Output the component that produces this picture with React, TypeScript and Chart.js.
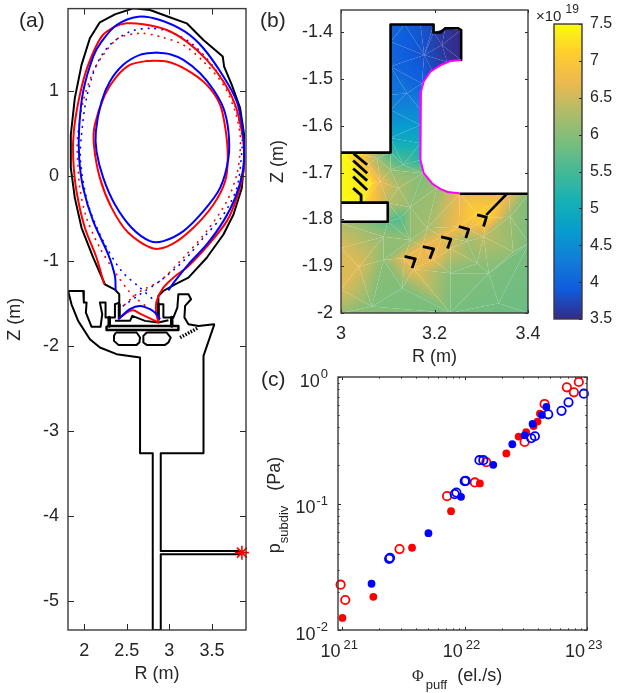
import React, { useEffect, useRef } from "react";
import { Chart, registerables } from "chart.js";

Chart.register(...registerables);

type Pt = number[];

// ---------- Panel (a): equilibrium and vessel geometry, [R, Z] in metres ----------
const aTicksR = [2, 2.5, 3, 3.5];
const aTicksZ = [-5, -4, -3, -2, -1, 0, 1];

const vesselOutline: Pt[] = [
  [1.812, -1.351], [1.989, -1.351], [1.996, -1.488], [2.028, -1.488], [2.02, -1.605], [2.087, -1.773], [2.192, -1.773],
  [2.212, -1.625], [2.185, -1.488], [2.251, -1.488], [2.251, -1.664], [2.361, -1.664], [2.361, -1.508], [2.412, -1.488],
  [2.412, -1.39], [2.361, -1.336], [2.243, -1.273], [2.106, -0.961], [1.969, -0.609], [1.89, -0.258], [1.843, 0.094],
  [1.843, 0.484], [1.89, 0.914], [1.969, 1.305], [2.067, 1.617], [2.184, 1.805], [2.361, 1.898], [2.576, 1.969],
  [2.773, 1.949], [2.988, 1.871], [3.204, 1.793], [3.4, 1.598], [3.627, 1.402], [3.643, 1.285], [3.733, 1.07],
  [3.831, 0.797], [3.878, 0.484], [3.878, 0.172], [3.851, -0.141], [3.753, -0.453], [3.635, -0.688], [3.439, -0.961],
  [3.224, -1.195], [3.067, -1.273], [2.929, -1.352], [2.871, -1.41], [2.871, -1.508], [2.93, -1.508], [2.93, -1.664],
  [3.047, -1.664], [3.094, -1.547], [3.106, -1.39], [3.224, -1.39], [3.255, -1.449], [3.185, -1.527], [3.177, -1.664],
  [3.224, -1.742], [3.341, -1.762], [3.526, -1.742], [3.526, -1.75], [3.401, -2.114], [3.401, -3.258], [2.899, -3.258],
  [2.899, -4.406], [3.852, -4.406],
];
const vesselLower: Pt[] = [
  [3.852, -4.445], [2.899, -4.445], [2.899, -5.336], [2.805, -5.336], [2.805, -3.258], [2.656, -3.258], [2.656, -2.133],
  [2.381, -2.094], [2.185, -2.016], [2.067, -1.918], [1.929, -1.703], [1.851, -1.508], [1.812, -1.352],
];
const divertorPlate: Pt[] = [[2.263, -1.762], [3.106, -1.762], [3.106, -1.809], [2.263, -1.809], [2.263, -1.762]];
const divertorDome: Pt[] = [[2.361, -1.703], [2.538, -1.703], [2.565, -1.644], [2.714, -1.703], [2.871, -1.723], [2.989, -1.695]];
const supportLeft: Pt[] = [[2.294, -1.664], [2.294, -1.762]];
const supportRight: Pt[] = [[3.028, -1.664], [3.028, -1.762]];
const baffleLeft: Pt[] = [[2.412, -1.508], [2.412, -1.664]];
const baffleRight: Pt[] = [[2.871, -1.508], [2.871, -1.683]];
const cryoLeft: Pt[] = [[2.373, -1.84], [2.616, -1.84], [2.656, -1.899], [2.648, -1.957], [2.616, -1.985], [2.401, -1.985], [2.35, -1.938], [2.35, -1.879], [2.373, -1.84]];
const cryoRight: Pt[] = [[2.734, -1.84], [2.969, -1.84], [3.016, -1.899], [2.989, -1.957], [2.95, -1.985], [2.734, -1.985], [2.695, -1.957], [2.695, -1.879], [2.734, -1.84]];
const pumpSlats: Pt[] = [[3.126, -1.899], [3.342, -1.782]];
const gaugePoint: Pt[] = [[3.852, -4.426]];

const redOuter: Pt[] = [
  [2.235, -1.273], [2.145, -0.961], [2.008, -0.609], [1.91, -0.18], [1.871, 0.211], [1.878, 0.523], [1.949, 0.953],
  [2.047, 1.305], [2.204, 1.637], [2.361, 1.754], [2.498, 1.793], [2.694, 1.781], [2.969, 1.715], [3.204, 1.578],
  [3.439, 1.363], [3.635, 1.109], [3.773, 0.836], [3.851, 0.523], [3.878, 0.289], [3.871, 0.055], [3.792, -0.258],
  [3.675, -0.531], [3.478, -0.785], [3.224, -1.059], [3.047, -1.195], [2.929, -1.313], [2.851, -1.469], [2.843, -1.605], [2.878, -1.723],
];
const redFloor: Pt[] = [[2.4, -1.684], [2.498, -1.605], [2.576, -1.578], [2.655, -1.617], [2.753, -1.664], [2.878, -1.723]];
const blueOuter: Pt[] = [
  [2.369, -1.344], [2.361, -1.176], [2.282, -0.922], [2.106, -0.531], [1.988, -0.141], [1.941, 0.211], [1.941, 0.563],
  [1.988, 0.992], [2.106, 1.402], [2.204, 1.578], [2.38, 1.773], [2.635, 1.871], [2.89, 1.832], [3.184, 1.695], [3.4, 1.5],
  [3.635, 1.168], [3.792, 0.875], [3.859, 0.563], [3.878, 0.328], [3.863, 0.055], [3.773, -0.258], [3.635, -0.531],
  [3.439, -0.805], [3.224, -1.039], [3.067, -1.234], [2.988, -1.344],
];
const blueFloor: Pt[] = [[2.4, -1.684], [2.537, -1.566], [2.655, -1.527], [2.773, -1.566], [2.851, -1.625], [2.89, -1.684]];
const blueCore: Pt[] = [
  [2.851, 1.449], [2.655, 1.422], [2.459, 1.305], [2.302, 1.109], [2.204, 0.875], [2.137, 0.523], [2.145, 0.289],
  [2.224, -0.023], [2.361, -0.336], [2.557, -0.609], [2.773, -0.766], [2.929, -0.766], [3.165, -0.648], [3.4, -0.414],
  [3.596, -0.141], [3.694, 0.211], [3.694, 0.523], [3.635, 0.797], [3.518, 1.012], [3.361, 1.207], [3.165, 1.363], [3.008, 1.43], [2.851, 1.449],
];
const redCore: Pt[] = [
  [2.733, 1.352], [2.537, 1.305], [2.38, 1.168], [2.243, 0.953], [2.125, 0.602], [2.114, 0.367], [2.184, -0.023],
  [2.322, -0.375], [2.518, -0.668], [2.812, -0.852], [3.027, -0.805], [3.282, -0.609], [3.518, -0.336], [3.655, -0.063],
  [3.686, 0.211], [3.663, 0.523], [3.596, 0.836], [3.439, 1.07], [3.204, 1.246], [2.969, 1.344], [2.733, 1.352],
];
const blueDotted: Pt[] = [
  [2.851, -1.488], [2.655, -1.313], [2.439, -1.117], [2.224, -0.766], [2.047, -0.336], [1.957, 0.172], [1.969, 0.484],
  [2.027, 0.914], [2.145, 1.305], [2.302, 1.539], [2.537, 1.695], [2.773, 1.734], [3.008, 1.695], [3.282, 1.539],
  [3.557, 1.227], [3.753, 0.875], [3.851, 0.484], [3.851, 0.289], [3.792, -0.141], [3.635, -0.453], [3.4, -0.727],
  [3.165, -1], [2.89, -1.234], [2.655, -1.391], [2.459, -1.527],
];
const redDotted: Pt[] = [
  [2.773, -1.566], [2.557, -1.391], [2.38, -1.156], [2.184, -0.844], [2.027, -0.492], [1.949, -0.141], [1.918, 0.328],
  [1.929, 0.523], [1.988, 0.875], [2.106, 1.227], [2.224, 1.422], [2.4, 1.617], [2.655, 1.676], [2.89, 1.637], [3.165, 1.539],
  [3.4, 1.344], [3.635, 1.07], [3.773, 0.758], [3.831, 0.484], [3.831, 0.289], [3.792, 0.016], [3.675, -0.297], [3.439, -0.648],
  [3.165, -0.961], [2.89, -1.234], [2.655, -1.359], [2.459, -1.527],
];

// ---------- Panel (b): neutral density on a triangular mesh, [R, Z, n / 1e19] ----------
const bTicksR = [3, 3.2, 3.4];
const bTicksZ = [-2, -1.9, -1.8, -1.7, -1.6, -1.5, -1.4];
const meshNodes: Pt[] = [
  [3.106, -1.383, 3.95], [3.136, -1.383, 3.95], [3.17, -1.383, 3.85], [3.198, -1.383, 3.75], [3.198, -1.4, 3.7],
  [3.223, -1.391, 3.6], [3.257, -1.395, 3.5], [3.257, -1.459, 3.5], [3.227, -1.463, 3.6], [3.195, -1.482, 3.75],
  [3.173, -1.509, 3.95], [3.178, -1.448, 3.8], [3.216, -1.427, 3.6], [3.106, -1.42, 4.0], [3.106, -1.473, 4.05],
  [3.141, -1.53, 4.2], [3.106, -1.534, 4.2], [3.17, -1.566, 4.45], [3.106, -1.566, 4.4], [3.106, -1.598, 4.65],
  [3.17, -1.598, 4.7], [3.106, -1.626, 4.9], [3.17, -1.637, 5.0], [3.106, -1.657, 5.5], [3.133, -1.683, 5.6],
  [3.17, -1.673, 5.3], [3.0, -1.657, 7.5], [3.027, -1.657, 7.5], [3.0, -1.763, 7.5], [3.045, -1.763, 7.4],
  [3.059, -1.681, 6.7], [3.064, -1.723, 7.3], [3.084, -1.719, 6.7], [3.077, -1.669, 6.2], [3.123, -1.733, 6.3],
  [3.106, -1.694, 6.1], [3.1, -1.764, 6.35], [3.1, -1.805, 5.7], [3.127, -1.797, 5.6], [3.148, -1.774, 6.1],
  [3.175, -1.701, 5.95], [3.205, -1.732, 6.15], [3.254, -1.745, 6.7], [3.359, -1.745, 6.7], [3.402, -1.745, 5.95],
  [3.184, -1.819, 6.2], [3.148, -1.844, 6.1], [3.091, -1.837, 6.1], [3.0, -1.808, 6.3], [3.291, -1.894, 6.05],
  [3.0, -1.861, 6.6], [3.038, -1.901, 6.6], [3.0, -1.949, 6.6], [3.0, -2, 6.15], [3.066, -1.986, 5.95],
  [3.091, -1.886, 6.05], [3.131, -1.947, 5.95], [3.234, -2, 5.9], [3.234, -1.915, 6.0], [3.316, -1.915, 5.95],
  [3.337, -1.979, 5.85], [3.402, -2, 5.8], [3.402, -1.851, 5.9], [3.368, -1.869, 6.1], [3.362, -1.794, 6.15],
  [3.305, -1.837, 6.4], [3.291, -1.787, 7.1], [3.311, -1.797, 7.2], [3.252, -1.815, 6.8], [3.273, -1.822, 6.6],
  [3.27, -1.847, 6.2], [3.216, -1.837, 6.7], [3.234, -1.862, 6.5], [3.175, -1.857, 6.7], [3.198, -1.886, 6.7],
  [3.136, -1.883, 6.7], [3.155, -1.906, 6.7],
];
const meshTriangles: Pt[] = [
  [0, 1, 13], [1, 11, 13], [1, 2, 11], [2, 3, 11], [3, 4, 11], [4, 12, 11], [4, 5, 12], [5, 6, 12], [6, 7, 12], [7, 8, 12],
  [8, 11, 12], [8, 9, 11], [9, 10, 11], [10, 14, 11], [13, 11, 14], [14, 10, 15], [14, 15, 16], [10, 17, 15], [15, 17, 18],
  [15, 18, 16], [18, 17, 20], [18, 20, 19], [19, 20, 21], [20, 22, 21], [21, 22, 24], [21, 24, 23], [22, 25, 24],
  [26, 27, 30], [26, 30, 31], [26, 31, 28], [28, 31, 29], [31, 32, 29], [29, 32, 36], [27, 33, 30], [27, 23, 33], [30, 32, 31],
  [30, 33, 32], [33, 35, 32], [33, 23, 35], [23, 24, 35], [35, 24, 40], [24, 25, 40], [35, 40, 34], [35, 34, 32], [32, 34, 36],
  [34, 40, 39], [34, 39, 36], [40, 41, 39], [36, 39, 38], [36, 38, 37], [41, 45, 39], [39, 45, 46], [39, 46, 38], [38, 46, 37],
  [37, 46, 47], [41, 42, 45], [42, 68, 45], [42, 66, 68], [42, 43, 66], [43, 67, 66], [43, 64, 67], [43, 44, 64], [44, 62, 64],
  [64, 63, 62], [64, 67, 65], [64, 65, 63], [66, 69, 68], [66, 67, 69], [67, 65, 69], [69, 65, 70], [68, 69, 70], [68, 70, 71],
  [68, 71, 45], [71, 70, 72], [45, 71, 73], [45, 73, 46], [71, 72, 74], [71, 74, 73], [73, 74, 76], [73, 76, 75], [46, 73, 75],
  [46, 75, 55], [46, 55, 47], [47, 55, 51], [47, 51, 50], [47, 50, 48], [47, 48, 37], [50, 51, 52], [52, 51, 54], [52, 54, 53],
  [51, 55, 54], [55, 56, 54], [55, 75, 56], [75, 76, 56], [76, 74, 58], [76, 58, 57], [76, 57, 56], [56, 57, 54], [54, 57, 53],
  [74, 72, 58], [72, 70, 49], [72, 49, 58], [70, 65, 49], [65, 59, 49], [65, 63, 59], [63, 62, 59], [62, 61, 60], [62, 60, 59],
  [59, 60, 57], [59, 57, 58], [49, 59, 58], [60, 61, 57],
];
const bWall: Pt[] = [[3, -1.657], [3.106, -1.657], [3.106, -1.383], [3.198, -1.383], [3.198, -1.4], [3.213, -1.4], [3.223, -1.391], [3.25, -1.391], [3.257, -1.395], [3.257, -1.459]];
const bFloor: Pt[] = [[3.254, -1.745], [3.402, -1.745]];
const bStrut: Pt[] = [[3.355, -1.745], [3.311, -1.79]];
const bHole: Pt[] = [[3, -1.764], [3.1, -1.764], [3.1, -1.805], [3, -1.805]];
const bDome: Pt[] = [[3.257, -1.459], [3.234, -1.461], [3.213, -1.47], [3.191, -1.484], [3.177, -1.505], [3.171, -1.527], [3.17, -1.566], [3.17, -1.673], [3.177, -1.701], [3.195, -1.723], [3.213, -1.735], [3.23, -1.742], [3.254, -1.744]];
const bLouvers: Pt[][] = [
  [[3.027, -1.659], [3.056, -1.683]], [[3.026, -1.674], [3.056, -1.701]], [[3.026, -1.691], [3.056, -1.717]], [[3.026, -1.708], [3.056, -1.737]],
  [[3.026, -1.733], [3.043, -1.748], [3.043, -1.764]],
];
const bTargets: Pt[][] = [
  [[3.291, -1.79], [3.311, -1.795], [3.305, -1.815]], [[3.252, -1.815], [3.273, -1.821], [3.267, -1.84]],
  [[3.214, -1.837], [3.235, -1.842], [3.228, -1.862]], [[3.175, -1.858], [3.198, -1.863], [3.19, -1.884]],
  [[3.136, -1.879], [3.159, -1.884], [3.152, -1.904]],
];

// ---------- Colour bar ----------
const colorTicks = [3.5, 4, 4.5, 5, 5.5, 6, 6.5, 7, 7.5];
const parulaStops: Pt[] = [
  [53, 42, 135], [15, 92, 221], [18, 125, 216], [7, 156, 207], [21, 177, 180], [70, 185, 150], [120, 190, 125], [175, 188, 105], [235, 185, 80], [255, 205, 45], [249, 251, 14],
];

// ---------- Panel (c): subdivertor pressure (Pa) versus puff rate (el./s) ----------
const cMajorX = [1e21, 1e22, 1e23];
const cMajorY = [0.01, 0.1, 1];
const decadeMultiples = [2, 3, 4, 5, 6, 7, 8, 9];
const cLabelsX = ["21", "22", "23"];
const cLabelsY = ["-2", "-1", "0"];
const redOpen: Pt[] = [
  [9.66e20, 0.0228], [1.055e21, 0.01726], [2.93e21, 0.0436], [7.17e21, 0.1143], [1.21e22, 0.1467], [1.5e22, 0.212],
  [3.09e22, 0.307], [4.5e22, 0.612], [6.84e22, 0.829], [7.81e22, 0.757], [8.57e22, 0.913],
];
const blueOpen: Pt[] = [
  [2.41e21, 0.0365], [2.45e21, 0.0372], [8.28e21, 0.1185], [8.55e21, 0.122], [1.0e22, 0.15], [1.02e22, 0.151], [1.32e22, 0.22],
  [1.42e22, 0.22], [3.5e22, 0.328], [3.75e22, 0.34], [4.82e22, 0.507], [6.19e22, 0.54], [7.06e22, 0.631], [9.42e22, 0.738],
];
const redFilled: Pt[] = [
  [1.0e21, 0.01245], [1.79e21, 0.0183], [3.71e21, 0.0447], [7.73e21, 0.087], [1.33e22, 0.144], [2.19e22, 0.249], [2.76e22, 0.338],
  [3.18e22, 0.366], [3.66e22, 0.41], [3.94e22, 0.444], [4.12e22, 0.514],
];
const blueFilled: Pt[] = [
  [1.73e21, 0.0232], [5.05e21, 0.0583], [9.33e21, 0.113], [1.71e22, 0.202], [2.45e22, 0.294], [3.09e22, 0.346], [3.59e22, 0.426],
  [4.28e22, 0.501], [4.65e22, 0.579],
];

// ---------- Helpers ----------
const INK = "#262626";
const FONT = '"Liberation Sans", Arial, sans-serif';
const RED = "#ff0000";
const BLUE = "#0000ff";
const CLEAR = "rgba(0,0,0,0)";

const xy = (pts: Pt[]) => pts.map(([x, y]) => ({ x, y }));
const line = (pts: Pt[], color: string, width: number, extra: any = {}) => ({
  data: xy(pts), showLine: true, borderColor: color, borderWidth: width, pointRadius: 0, fill: false, tension: 0,
  borderJoinStyle: "round", ...extra,
});
const dotted = { borderDash: [0.5, 6.4], borderCapStyle: "round" };
const smooth = { tension: 0.3 };

function parula(n: number): string {
  const t = Math.min(1, Math.max(0, (n - 3.5) / 4)) * (parulaStops.length - 1);
  const i = Math.min(parulaStops.length - 2, Math.floor(t));
  const f = t - i;
  const c = [0, 1, 2].map((k) => Math.round(parulaStops[i][k] * (1 - f) + parulaStops[i + 1][k] * f));
  return `rgb(${c[0]},${c[1]},${c[2]})`;
}

// linear colour field over a triangle, expressed as a canvas gradient through the chart's scales
function triangleFill(chart: any, tri: Pt) {
  const { x: sx, y: sy } = chart.scales;
  if (!sx || !sy || !chart.chartArea) return CLEAR;
  const p = tri.map((i) => ({ x: sx.getPixelForValue(meshNodes[i][0]), y: sy.getPixelForValue(meshNodes[i][1]), v: meshNodes[i][2] }));
  if (p.some((q) => !isFinite(q.x) || !isFinite(q.y))) return CLEAR;
  const dx1 = p[1].x - p[0].x, dy1 = p[1].y - p[0].y, dv1 = p[1].v - p[0].v;
  const dx2 = p[2].x - p[0].x, dy2 = p[2].y - p[0].y, dv2 = p[2].v - p[0].v;
  const det = dx1 * dy2 - dx2 * dy1;
  const a = (dv1 * dy2 - dv2 * dy1) / det;
  const b = (dx1 * dv2 - dx2 * dv1) / det;
  const g2 = a * a + b * b;
  const vals = p.map((q) => q.v);
  const lo = Math.min(...vals), hi = Math.max(...vals);
  if (!isFinite(g2) || g2 < 1e-12 || hi - lo < 1e-6) return parula(lo);
  const at = (v: number) => ({ x: p[0].x + (a * (v - p[0].v)) / g2, y: p[0].y + (b * (v - p[0].v)) / g2 });
  const s = at(lo), e = at(hi);
  const grad = chart.ctx.createLinearGradient(s.x, s.y, e.x, e.y);
  for (let k = 0; k <= 8; k++) grad.addColorStop(k / 8, parula(lo + ((hi - lo) * k) / 8));
  return grad;
}

// MATLAB-style box with inward tick marks on the requested sides
const frame = (major: number, minor: number, sides = "lrtb") => ({
  id: "frame",
  afterDatasetsDraw(chart: any) {
    const { ctx, chartArea: a, scales } = chart;
    ctx.save();
    ctx.strokeStyle = INK;
    ctx.lineWidth = 1;
    ctx.beginPath();
    const sx = scales.x, sy = scales.y;
    if (sx && sx.options.display !== false) {
      for (const t of sx.ticks) {
        const p = Math.round(sx.getPixelForValue(t.value)) + 0.5;
        const len = t.minor ? minor : major;
        if (sides.includes("b")) { ctx.moveTo(p, a.bottom); ctx.lineTo(p, a.bottom - len); }
        if (sides.includes("t")) { ctx.moveTo(p, a.top); ctx.lineTo(p, a.top + len); }
      }
    }
    for (const t of sy.ticks) {
      const p = Math.round(sy.getPixelForValue(t.value)) + 0.5;
      const len = t.minor ? minor : major;
      if (sides.includes("l")) { ctx.moveTo(a.left, p); ctx.lineTo(a.left + len, p); }
      if (sides.includes("r")) { ctx.moveTo(a.right, p); ctx.lineTo(a.right - len, p); }
    }
    ctx.stroke();
    ctx.strokeStyle = "#3a3a3a";
    ctx.lineWidth = 1.4;
    ctx.strokeRect(a.left, a.top, a.right - a.left, a.bottom - a.top);
    ctx.restore();
  },
});

// powers-of-ten tick labels with a raised exponent
const powerLabels = {
  id: "powerLabels",
  afterDraw(chart: any) {
    const { ctx, chartArea: a, scales } = chart;
    ctx.save();
    ctx.fillStyle = INK;
    ctx.textBaseline = "alphabetic";
    const put = (exp: string, left: number | null, right: number | null, base: number) => {
      ctx.font = `18px ${FONT}`;
      const bw = ctx.measureText("10").width;
      ctx.font = `13px ${FONT}`;
      const ew = ctx.measureText(exp).width;
      const gap = left !== null ? 3 : 1;
      const x = left !== null ? left : (right as number) - ew - gap - bw;
      ctx.font = `18px ${FONT}`;
      ctx.fillText("10", x, base);
      ctx.font = `13px ${FONT}`;
      ctx.fillText(exp, x + bw + gap, base - 8.5);
    };
    cMajorX.forEach((v, i) => put(cLabelsX[i], scales.x.getPixelForValue(v) - 22, null, a.bottom + 27));
    cMajorY.forEach((v, i) => put(cLabelsY[i], null, a.left - 10, scales.y.getPixelForValue(v) + 9.5));
    ctx.restore();
  },
};

const fitAxis = (size: number, horizontal: boolean) => (s: any) => {
  if (horizontal) s.height = size; else s.width = size;
  s.paddingLeft = s.paddingRight = s.paddingTop = s.paddingBottom = 0;
};

const tickFont = { family: FONT, size: 18 };
const barFont = { family: FONT, size: 16 };
const titleFont = { family: FONT, size: 18 };

const linearAxis = (min: number, max: number, ticks: number[], horizontal: boolean, size: number, title: string, tickPad: number, titlePad: number) => ({
  type: "linear",
  min, max,
  grid: { display: false, drawTicks: false },
  border: { display: false },
  afterBuildTicks: (s: any) => { s.ticks = ticks.map((value) => ({ value })); },
  afterFit: fitAxis(size, horizontal),
  ticks: { font: tickFont, color: INK, padding: tickPad, autoSkip: false, maxRotation: 0, callback: (v: number) => String(v) },
  title: { display: true, text: title, font: titleFont, color: INK, padding: horizontal ? { top: 0, bottom: titlePad } : { top: titlePad, bottom: titlePad } },
});

const logAxis = (min: number, max: number, majors: number[], horizontal: boolean, size: number) => ({
  type: "logarithmic",
  min, max,
  grid: { display: false, drawTicks: false },
  border: { display: false },
  afterBuildTicks: (s: any) => {
    const out: any[] = [];
    majors.forEach((m) => {
      out.push({ value: m, major: true });
      decadeMultiples.forEach((k) => {
        const v = m * k;
        if (v <= max) out.push({ value: v, minor: true });
      });
    });
    s.ticks = out.sort((p, q) => p.value - q.value);
  },
  afterFit: fitAxis(size, horizontal),
  ticks: { display: false, autoSkip: false },
});

const base = (padding: any) => ({
  animation: false,
  responsive: false,
  events: [],
  layout: { padding },
  plugins: { legend: { display: false }, tooltip: { enabled: false }, title: { display: false } },
});

const pos = (l: number, t: number, w: number, h: number): React.CSSProperties => ({ position: "absolute", left: l, top: t, width: w, height: h, display: "block" });
const label = (l: number, t: number, size = 18): React.CSSProperties => ({ position: "absolute", left: l, top: t, font: `${size}px ${FONT}`, color: INK, whiteSpace: "pre", lineHeight: "22px" });
const subStyle: React.CSSProperties = { fontSize: 13, verticalAlign: "-8px", lineHeight: 0 };
const supStyle: React.CSSProperties = { fontSize: 12, verticalAlign: "7.5px", lineHeight: 0, marginLeft: 4 };

export default function App() {
  const aRef = useRef<HTMLCanvasElement>(null);
  const bRef = useRef<HTMLCanvasElement>(null);
  const barRef = useRef<HTMLCanvasElement>(null);
  const cRef = useRef<HTMLCanvasElement>(null);

  useEffect(() => {
    const black = (p: Pt[], w = 2, extra: any = {}) => line(p, "#000000", w, extra);

    const chartA = new Chart(aRef.current as any, {
      type: "scatter",
      data: {
        datasets: [
          { data: xy(gaugePoint), pointStyle: "star", pointRadius: 7, pointBorderColor: RED, pointBorderWidth: 1.6, showLine: false, clip: false },
          line(blueFloor, BLUE, 2, smooth),
          line(blueOuter, BLUE, 2, smooth),
          line(blueCore, BLUE, 2, smooth),
          line(redFloor, RED, 2, smooth),
          line(redOuter, RED, 2, smooth),
          line(redCore, RED, 2, smooth),
          line(blueDotted, BLUE, 1.7, { ...dotted, ...smooth }),
          line(redDotted, RED, 1.7, { ...dotted, ...smooth }),
          black(vesselOutline),
          black(vesselLower),
          black(divertorPlate, 2.5),
          black(divertorDome),
          black(supportLeft, 3.5),
          black(supportRight, 3.5),
          black(baffleLeft, 3),
          black(baffleRight, 3),
          black(cryoLeft),
          black(cryoRight),
          black(pumpSlats, 3.5, { borderDash: [1.5, 1.5] }),
        ],
      },
      options: {
        ...base({ top: 7, right: 10 }),
        scales: {
          x: linearAxis(1.81, 3.9, aTicksR, true, 63, "R (m)", 10, 8),
          y: linearAxis(-5.335, 1.966, aTicksZ, false, 68, "Z (m)", 9, 4),
        },
      },
      plugins: [frame(6, 3)],
    } as any);

    const chartB = new Chart(bRef.current as any, {
      type: "scatter",
      data: {
        datasets: [
          line(bDome, "#ff00ff", 2),
          black(bWall, 2.6),
          black(bFloor, 2.6),
          black(bStrut, 2.6),
          black(bHole, 2.6),
          ...bLouvers.map((p) => black(p, 2.8)),
          ...bTargets.map((p) => black(p, 2.8)),
          ...meshTriangles.map((tri) => ({
            data: xy([...tri, tri[0]].map((i) => [meshNodes[i][0], meshNodes[i][1]])),
            showLine: true,
            borderWidth: 0,
            pointRadius: 0,
            fill: "shape",
            backgroundColor: (c: any) => triangleFill(c.chart, tri),
          })),
        ],
      },
      options: {
        ...base({ top: 10, right: 12 }),
        scales: {
          x: linearAxis(3, 3.4, bTicksR, true, 57, "R (m)", 10, 2),
          y: linearAxis(-2, -1.352, bTicksZ, false, 79, "Z (m)", 8, 5),
        },
      },
      plugins: [frame(3, 2)],
    } as any);

    const chartBar = new Chart(barRef.current as any, {
      type: "scatter",
      data: {
        datasets: [
          {
            data: [{ x: 0, y: 3.5 }, { x: 1, y: 3.5 }, { x: 1, y: 7.5 }, { x: 0, y: 7.5 }, { x: 0, y: 3.5 }],
            showLine: true, borderWidth: 0, pointRadius: 0, fill: "shape",
            backgroundColor: (c: any) => {
              const { y } = c.chart.scales;
              if (!y || !c.chart.chartArea) return CLEAR;
              const y0 = y.getPixelForValue(3.5), y1 = y.getPixelForValue(7.5);
              if (!isFinite(y0) || !isFinite(y1)) return CLEAR;
              const g = c.chart.ctx.createLinearGradient(0, y0, 0, y1);
              for (let k = 0; k <= 40; k++) g.addColorStop(k / 40, parula(3.5 + (4 * k) / 40));
              return g;
            },
          },
        ],
      },
      options: {
        ...base({ top: 24, left: 12, bottom: 21 }),
        scales: {
          x: { type: "linear", min: 0, max: 1, display: false },
          y: {
            type: "linear", position: "right", min: 3.5, max: 7.5,
            grid: { display: false, drawTicks: false }, border: { display: false },
            afterBuildTicks: (s: any) => { s.ticks = colorTicks.map((value) => ({ value })); },
            afterFit: fitAxis(43, false),
            ticks: { font: barFont, color: INK, padding: 8, autoSkip: false, callback: (v: number) => String(v) },
          },
        },
      },
      plugins: [frame(3, 2, "r")],
    } as any);

    const marker = (p: Pt[], color: string, filled: boolean) => ({
      data: xy(p), showLine: false, pointRadius: filled ? 3.9 : 4.2, pointStyle: "circle",
      pointBackgroundColor: filled ? color : CLEAR, pointBorderColor: color, pointBorderWidth: filled ? 0 : 1.8,
      clip: false,
    });
    const chartC = new Chart(cRef.current as any, {
      type: "scatter",
      data: {
        datasets: [
          marker(blueFilled, BLUE, true),
          marker(blueOpen, BLUE, false),
          marker(redFilled, RED, true),
          marker(redOpen, RED, false),
        ],
      },
      options: {
        ...base({ top: 12, right: 38 }),
        scales: {
          x: logAxis(9.2e20, 1e23, cMajorX, true, 63),
          y: logAxis(0.01, 1, cMajorY, false, 76),
        },
      },
      plugins: [frame(3, 1.6), powerLabels],
    } as any);

    return () => {
      chartA.destroy();
      chartB.destroy();
      chartBar.destroy();
      chartC.destroy();
    };
  }, []);

  return (
    <div style={{ position: "absolute", left: 0, top: 0, width: 625, height: 693, overflow: "hidden", background: "#fff" }}>
      <canvas ref={aRef} width={256} height={693} style={pos(0, 0, 256, 693)} />
      <canvas ref={bRef} width={278} height={370} style={pos(262, 0, 278, 370)} />
      <canvas ref={barRef} width={83} height={340} style={pos(542, 0, 83, 340)} />
      <canvas ref={cRef} width={363} height={328} style={pos(262, 365, 363, 328)} />
      <div style={label(19, 9, 21)}>(a)</div>
      <div style={label(260, 9, 21)}>(b)</div>
      <div style={label(261, 368, 21)}>(c)</div>
      <div style={label(536, 4.5, 15)}>
        ×10<span style={supStyle}>19</span>
      </div>
      <div style={label(412, 664)}>
        <span style={{ fontFamily: '"Liberation Serif", serif', fontSize: 16 }}>Φ</span>
        <span style={{ ...subStyle, marginLeft: 2 }}>puff</span>
        {"  "}(el./s)
      </div>
      <div style={{ ...label(274, 505), transform: "translate(-50%,-50%) rotate(-90deg)" }}>
        p<span style={subStyle}>subdiv</span>{"   "}(Pa)
      </div>
    </div>
  );
}
